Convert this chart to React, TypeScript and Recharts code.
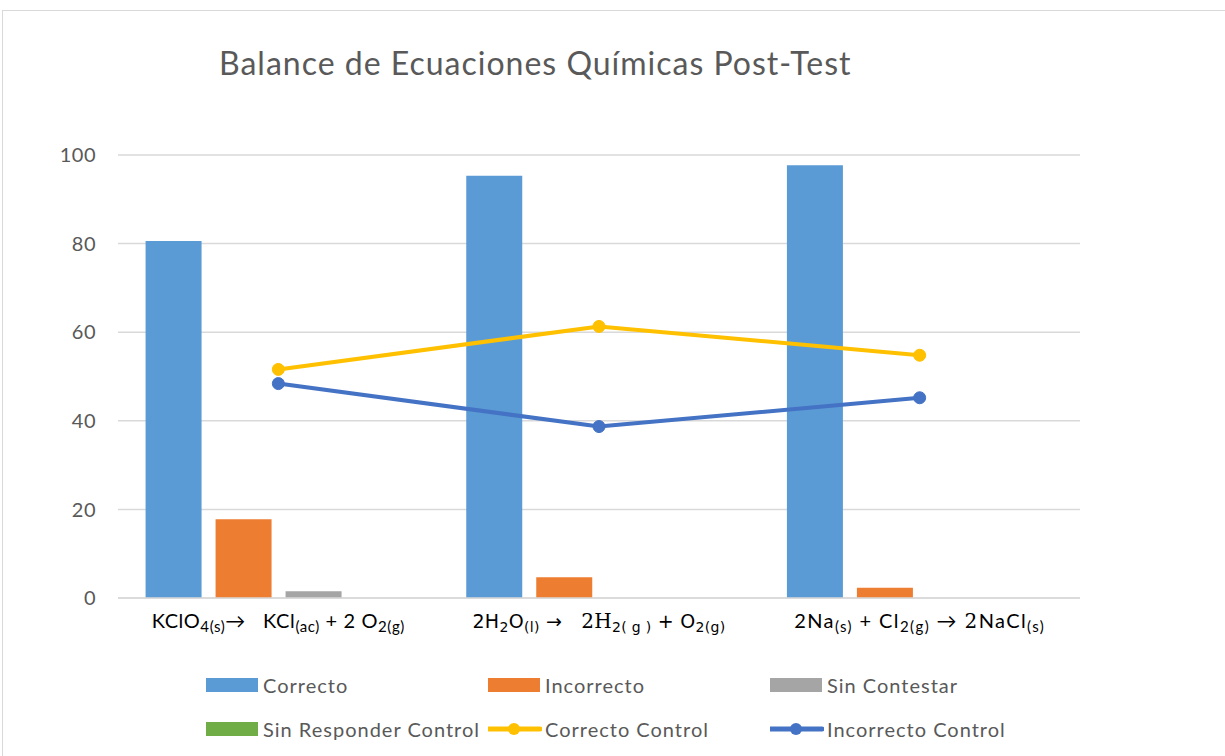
import { ComposedChart, Bar, Line, XAxis, YAxis, CartesianGrid } from 'recharts';

const categories = ['KClO4', '2H2O', '2Na'];
const correcto = [80.6, 95.3, 97.7];
const incorrecto = [17.8, 4.7, 2.3];
const sinContestar = [1.5, 0, 0];
const sinResponderControl = [0, 0, 0];
const correctoControl = [51.6, 61.3, 54.8];
const incorrectoControl = [48.4, 38.7, 45.2];
const yTicks = [0, 20, 40, 60, 80, 100];

// tick labels: [text, isSubscript, fontKind]
const tickParts: [string, boolean, string][][] = [
  [['KClO', false, 's'], ['4(s)', true, 's'], ['→   KCl', false, 's'], ['(ac)', true, 's'], [' + 2 O', false, 's'], ['2(g)', true, 's']],
  [['2H', false, 'w'], ['2', true, 'w'], ['O', false, 'w'], ['(l)', true, 'w'], [' →   ', false, 'w'], ['2H', false, 'r'], ['2( g )', true, 'w'], [' + O', false, 'w'], ['2(g)', true, 'w']],
  [['2Na', false, 's'], ['(s)', true, 's'], [' + Cl', false, 's'], ['2(g)', true, 's'], [' → ', false, 's'], ['2', false, 'r'], ['NaCl', false, 's'], ['(s)', true, 's']],
];

const legendItems = [
  { name: 'Correcto', color: '#5B9BD5', type: 'bar' },
  { name: 'Incorrecto', color: '#ED7D31', type: 'bar' },
  { name: 'Sin Contestar', color: '#A5A5A5', type: 'bar' },
  { name: 'Sin Responder Control', color: '#70AD47', type: 'bar' },
  { name: 'Correcto Control', color: '#FFC000', type: 'line' },
  { name: 'Incorrecto Control', color: '#4472C4', type: 'line' },
];

const data = categories.map((c, i) => ({
  name: c,
  correcto: correcto[i],
  incorrecto: incorrecto[i],
  sinContestar: sinContestar[i],
  sinResponderControl: sinResponderControl[i],
  correctoControl: correctoControl[i],
  incorrectoControl: incorrectoControl[i],
}));

const SANS = 'Lato, "Liberation Sans", sans-serif';
const fontStyles: Record<string, { family: string; size: number; sub: number }> = {
  s: { family: SANS, size: 20, sub: 15 },
  w: { family: '"DejaVu Sans", sans-serif', size: 19, sub: 14 },
  r: { family: '"DejaVu Serif", "Liberation Serif", serif', size: 20, sub: 15 },
};
const tickSpacing = [0.6, 0.3, 1.4];

function CategoryTick(props: any) {
  const { x, y, payload } = props;
  const parts = tickParts[payload.index] || [];
  let prevSub = false;
  return (
    <text x={x} y={y + 22} textAnchor="middle" fill="#000" style={{ whiteSpace: 'pre' }}>
      {parts.map(([t, sub, kind], i) => {
        let dy = 0;
        if (sub && !prevSub) dy = 4;
        if (!sub && prevSub) dy = -4;
        prevSub = sub;
        const f = fontStyles[kind];
        return (
          <tspan
            key={i}
            dy={dy}
            fontFamily={f.family}
            fontSize={sub ? f.sub : f.size}
            letterSpacing={tickSpacing[payload.index]}
          >
            {t}
          </tspan>
        );
      })}
    </text>
  );
}

function App() {
  return (
    <div style={{ position: 'absolute', left: 0, top: 0, width: 1225, height: 756, overflow: 'hidden', background: '#fff', fontFamily: SANS }}>
      <div style={{ position: 'absolute', left: 2, top: 10, width: 1240, height: 770, border: '1px solid #d9d9d9' }} />
      <div style={{ position: 'absolute', left: 219, top: 43, fontSize: 32, letterSpacing: 1, color: '#595959', whiteSpace: 'nowrap' }}>
        Balance de Ecuaciones Químicas Post-Test
      </div>
      <div style={{ position: 'absolute', left: 0, top: 0 }}>
        <ComposedChart
          width={1225}
          height={756}
          data={data}
          margin={{ top: 155, right: 145, bottom: 108, left: 0 }}
          barCategoryGap="8.6%"
          barGap={14}
        >
          <CartesianGrid vertical={false} stroke="#d9d9d9" strokeWidth={1.5} />
          <XAxis
            dataKey="name"
            axisLine={{ stroke: '#d9d9d9', strokeWidth: 1.5 }}
            tickLine={false}
            tick={<CategoryTick />}
            height={50}
            interval={0}
          />
          <YAxis
            domain={[0, 100]}
            ticks={yTicks}
            width={118}
            axisLine={false}
            tickLine={false}
            tickSize={0}
            tickMargin={22}
            tick={{ fill: '#595959', fontSize: 20, fontFamily: SANS, letterSpacing: 0.5 }}
          />
          <Bar dataKey="correcto" fill="#5B9BD5" isAnimationActive={false} />
          <Bar dataKey="incorrecto" fill="#ED7D31" isAnimationActive={false} />
          <Bar dataKey="sinContestar" fill="#A5A5A5" isAnimationActive={false} />
          <Bar dataKey="sinResponderControl" fill="#70AD47" isAnimationActive={false} />
          <Line
            dataKey="correctoControl"
            stroke="#FFC000"
            strokeWidth={4}
            dot={{ r: 6, fill: '#FFC000', stroke: '#FFC000', strokeWidth: 1 }}
            isAnimationActive={false}
          />
          <Line
            dataKey="incorrectoControl"
            stroke="#4472C4"
            strokeWidth={4}
            dot={{ r: 6, fill: '#4472C4', stroke: '#4472C4', strokeWidth: 1 }}
            isAnimationActive={false}
          />
        </ComposedChart>
      </div>
      {legendItems.map((item, i) => {
        const col = i % 3;
        const row = Math.floor(i / 3);
        const left = 206 + col * 282;
        const top = 673 + row * 44;
        return (
          <div key={item.name} style={{ position: 'absolute', left, top, display: 'flex', alignItems: 'center', height: 24, whiteSpace: 'nowrap' }}>
            <svg width={54} height={24} style={{ marginRight: 3 }}>
              {item.type === 'bar' ? (
                <rect x={0} y={5} width={52} height={14} fill={item.color} />
              ) : (
                <g>
                  <line x1={0} y1={12} x2={52} y2={12} stroke={item.color} strokeWidth={5} strokeLinecap="round" />
                  <circle cx={26} cy={12} r={6} fill={item.color} />
                </g>
              )}
            </svg>
            <span style={{ fontSize: 20, letterSpacing: 1, color: '#595959' }}>{item.name}</span>
          </div>
        );
      })}
    </div>
  );
}

export default App;
